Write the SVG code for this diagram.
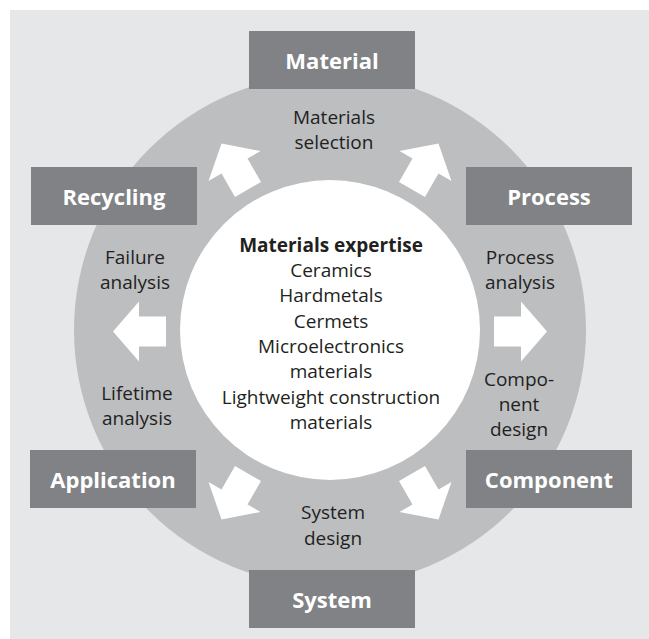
<svg xmlns="http://www.w3.org/2000/svg" xmlns:xlink="http://www.w3.org/1999/xlink" width="649" height="639" viewBox="0 0 649 639">
<style>
.box{fill:#808285}
.bl{font-family:"Open Sans","Liberation Sans",sans-serif;font-weight:bold;font-size:22px;fill:#ffffff;text-anchor:middle}
.t{font-family:"Open Sans","Liberation Sans",sans-serif;font-size:19px;fill:#231f20;text-anchor:middle}
.tb{font-weight:bold}
.arr{fill:#ffffff}
</style>
<defs>
<path id="arr" d="M164,-15 L191,-15 L191,-30 L217,0 L191,30 L191,15 L164,15 Z"/>
</defs>
<rect x="10" y="10" width="639" height="629" fill="#e6e7e8"/>
<circle cx="330" cy="330" r="256" fill="#bcbec0"/>
<circle cx="330" cy="330" r="150" fill="#ffffff"/>
<g id="connectors" class="arr">
<use xlink:href="#arr" transform="translate(330,331.5) rotate(0)"/>
<use xlink:href="#arr" transform="translate(330,331.5) rotate(-60)"/>
<use xlink:href="#arr" transform="translate(330,331.5) rotate(-120)"/>
<use xlink:href="#arr" transform="translate(330,331.5) rotate(180)"/>
<use xlink:href="#arr" transform="translate(330,331.5) rotate(120)"/>
<use xlink:href="#arr" transform="translate(330,331.5) rotate(60)"/>
</g>
<g id="material"><rect class="box" x="249" y="31" width="166" height="58"/><text class="bl" x="332" y="68.5">Material</text></g>
<g id="process"><rect class="box" x="466" y="167" width="166" height="58"/><text class="bl" x="549" y="204.5">Process</text></g>
<g id="component"><rect class="box" x="466" y="450" width="166" height="58"/><text class="bl" x="549" y="487.5">Component</text></g>
<g id="system"><rect class="box" x="249" y="570" width="166" height="58"/><text class="bl" x="332" y="607.5">System</text></g>
<g id="application"><rect class="box" x="30" y="450" width="166" height="58"/><text class="bl" x="113" y="487.5">Application</text></g>
<g id="recycling"><rect class="box" x="31" y="167" width="166" height="58"/><text class="bl" x="114" y="204.5">Recycling</text></g>
<g id="expertise">
<text class="t tb" x="331" y="252">Materials expertise</text>
<text class="t" x="331" y="277">Ceramics</text>
<text class="t" x="331" y="302">Hardmetals</text>
<text class="t" x="331" y="328">Cermets</text>
<text class="t" x="331" y="353">Microelectronics</text>
<text class="t" x="331" y="378">materials</text>
<text class="t" x="331" y="404">Lightweight construction</text>
<text class="t" x="331" y="429">materials</text>
</g>
<g id="labels">
<text class="t" x="334" y="124">Materials</text>
<text class="t" x="334" y="149">selection</text>
<text class="t" x="520" y="264">Process</text>
<text class="t" x="520" y="289">analysis</text>
<text class="t" x="519" y="386">Compo-</text>
<text class="t" x="519" y="411">nent</text>
<text class="t" x="519" y="436">design</text>
<text class="t" x="333" y="519">System</text>
<text class="t" x="333" y="545">design</text>
<text class="t" x="137" y="400">Lifetime</text>
<text class="t" x="137" y="425">analysis</text>
<text class="t" x="135" y="264">Failure</text>
<text class="t" x="135" y="289">analysis</text>
</g>
</svg>
